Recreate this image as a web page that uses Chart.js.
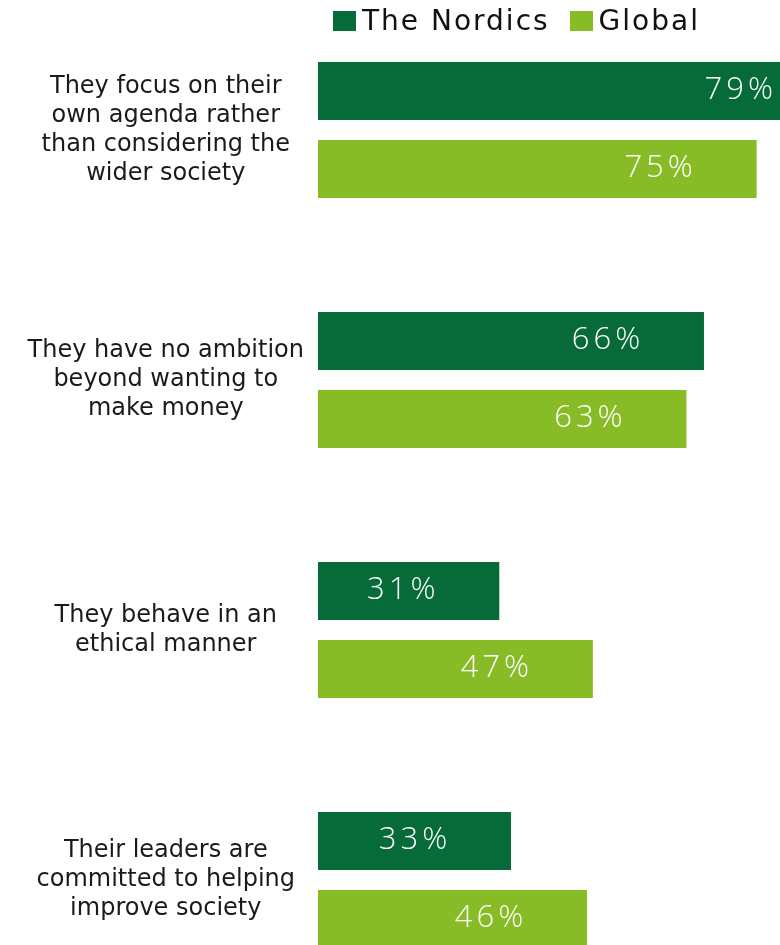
<!DOCTYPE html>
<html><head><meta charset="utf-8">
<script src="https://cdn.jsdelivr.net/npm/chart.js@4.4.0/dist/chart.umd.min.js"></script>
<style>
html,body{margin:0;padding:0;background:#fff;overflow:hidden;width:780px;height:945px;}
#c{position:absolute;left:0;top:0;}
#legend{position:absolute;top:7px;left:333px;display:flex;align-items:center;font-family:"DejaVu Sans";font-size:28px;line-height:28px;letter-spacing:2px;color:#111;z-index:2;white-space:nowrap;}
#legend .item{display:flex;align-items:center;margin-right:20px;}
#legend .sw{display:inline-block;width:23px;height:20px;margin-right:6px;}
</style></head><body>
<canvas id="c" width="780" height="1005"></canvas>
<div id="legend"></div>
<script>
// ---- data ----
const categories = [
  ["They focus on their","own agenda rather","than considering the","wider society"],
  ["They have no ambition","beyond wanting to","make money"],
  ["They behave in an","ethical manner"],
  ["Their leaders are","committed to helping","improve society"]
];
const seriesNames = ["The Nordics","Global"];
const nordics = [79, 66, 31, 33];
const global = [75, 63, 47, 46];

// ---- styles ----
const colors = ["#066b38", "#88bc27"];

// legend (HTML text)
const leg = document.getElementById('legend');
seriesNames.forEach((n, i) => {
  const it = document.createElement('span'); it.className = 'item';
  const sw = document.createElement('span'); sw.className = 'sw'; sw.style.background = colors[i];
  const tx = document.createElement('span'); tx.textContent = n;
  it.appendChild(sw); it.appendChild(tx); leg.appendChild(it);
});

const valueLabels = {
  id: 'valueLabels',
  afterDatasetsDraw(chart, args, opts) {
    const c = chart.ctx;
    const maxV = Math.max(...chart.data.datasets.flatMap(d => d.data));
    c.save();
    c.font = opts.font;
    c.fillStyle = opts.color;
    c.textBaseline = 'middle';
    if ('letterSpacing' in c) c.letterSpacing = opts.letterSpacing;
    chart.data.datasets.forEach((ds, di) => {
      chart.getDatasetMeta(di).data.forEach((bar, i) => {
        const v = ds.data[i];
        const txt = v + '%';
        if (v === maxV) {
          c.textAlign = 'right';
          c.fillText(txt, bar.x - opts.edgePad, bar.y + opts.dy);
        } else {
          c.textAlign = 'center';
          c.fillText(txt, bar.x - opts.centerInset, bar.y + opts.dy);
        }
      });
    });
    c.restore();
  }
};

new Chart(document.getElementById('c'), {
  type: 'bar',
  data: {
    labels: categories,
    datasets: [
      { label: seriesNames[0], data: nordics, backgroundColor: colors[0], barPercentage: 0.744, categoryPercentage: 0.624 },
      { label: seriesNames[1], data: global, backgroundColor: colors[1], barPercentage: 0.744, categoryPercentage: 0.624 }
    ]
  },
  options: {
    indexAxis: 'y',
    responsive: false,
    animation: false,
    layout: { padding: { top: 5, right: 0, bottom: 0, left: 0 } },
    plugins: {
      legend: { display: false },
      tooltip: { enabled: false },
      valueLabels: { font: '300 31px "Open Sans"', color: '#ffffff', letterSpacing: '4px', edgePad: 3, centerInset: 96, dy: -1 }
    },
    scales: {
      x: { display: false, min: 0, max: 79 },
      y: {
        grid: { display: false, drawTicks: false },
        border: { display: false },
        ticks: { crossAlign: 'center', padding: 14, color: '#1a1a1a', font: { family: '"DejaVu Sans"', size: 24, lineHeight: 29/24 } },
        afterFit(s) { s.width = 318; s.paddingTop = 0; s.paddingBottom = 0; }
      }
    }
  },
  plugins: [valueLabels]
});
</script>
</body></html>
